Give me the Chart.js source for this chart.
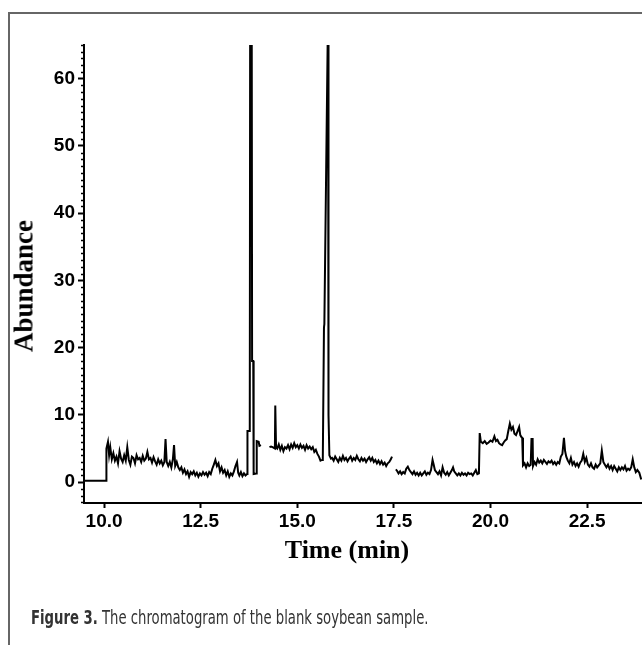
<!DOCTYPE html>
<html>
<head>
<meta charset="utf-8">
<script src="https://cdn.jsdelivr.net/npm/chart.js@4.4.1/dist/chart.umd.min.js"></script>
<style>
  html, body { margin: 0; padding: 0; background: #fff; }
  #wrap { position: relative; width: 642px; height: 645px; overflow: hidden; }
  #frame { position: absolute; left: 8px; top: 12px; width: 700px; height: 700px;
           border-top: 2px solid #666; border-left: 2px solid #666; }
  #chart { position: absolute; left: 0; top: 0; }
  .title { position: absolute; white-space: nowrap; font-family: "Liberation Serif", "Times New Roman", serif;
           font-weight: bold; color: #000; transform: translate(-50%, -50%); }
  #ytitle { left: 24px; top: 286px; font-size: 27px; transform: translate(-50%, -50%) rotate(-90deg); }
  #xtitle { left: 347px; top: 550px; font-size: 26px; }
  #caption { position: absolute; left: 31px; top: 605px; white-space: nowrap; color: #333;
             font-family: "Liberation Sans Narrow", "DejaVu Sans Condensed", sans-serif; font-stretch: condensed;
             font-size: 20px; transform: scaleX(0.735); transform-origin: left center; }
</style>
</head>
<body>
<div id="wrap">
  <div id="frame"></div>
  <canvas id="chart" width="642" height="645"></canvas>
  <div class="title" id="ytitle">Abundance</div>
  <div class="title" id="xtitle">Time (min)</div>
  <div id="caption"><b>Figure 3.</b> The chromatogram of the blank soybean sample.</div>
</div>
<script>
// ===============================
// DATA - chromatogram of blank soybean sample
// ===============================
const times = [
  9.48, 10.05, 10.06, 10.10, 10.13, 10.16, 10.20, 10.24, 10.28, 10.32, 10.36, 10.40, 10.44, 10.48, 10.52, 10.56,
  10.60, 10.64, 10.68, 10.72, 10.76, 10.80, 10.84, 10.88, 10.92, 10.96, 11.00, 11.04, 11.08, 11.12, 11.16, 11.20,
  11.24, 11.28, 11.32, 11.36, 11.40, 11.44, 11.48, 11.52, 11.56, 11.59, 11.62, 11.66, 11.70, 11.74, 11.78, 11.81,
  11.84, 11.88, 11.92, 11.96, 12.00, 12.04, 12.08, 12.12, 12.16, 12.20, 12.24, 12.28, 12.32, 12.36, 12.40, 12.44,
  12.48, 12.52, 12.56, 12.60, 12.64, 12.68, 12.72, 12.76, 12.80, 12.84, 12.88, 12.92, 12.96, 13.00, 13.04, 13.08,
  13.12, 13.16, 13.20, 13.24, 13.28, 13.32, 13.36, 13.40, 13.44, 13.47, 13.50, 13.54, 13.58, 13.62, 13.66, 13.70,
  13.71, 13.77, 13.78, 13.82, 13.83, 13.86, 13.87, 13.94, 13.95, 14.00, 14.02, 14.06, 14.10, 14.28, 14.32, 14.36,
  14.42, 14.43, 14.45, 14.48, 14.52, 14.56, 14.60, 14.64, 14.68, 14.72, 14.76, 14.80, 14.84, 14.88, 14.92, 14.96,
  15.00, 15.04, 15.08, 15.12, 15.16, 15.20, 15.24, 15.28, 15.32, 15.36, 15.40, 15.44, 15.48, 15.52, 15.56, 15.60,
  15.64, 15.66, 15.69, 15.70, 15.795, 15.80, 15.815, 15.83, 15.87, 15.90, 15.94, 15.98, 16.02, 16.06, 16.10, 16.14,
  16.18, 16.22, 16.26, 16.30, 16.34, 16.38, 16.42, 16.46, 16.50, 16.54, 16.58, 16.62, 16.66, 16.70, 16.74, 16.78,
  16.82, 16.86, 16.90, 16.94, 16.98, 17.02, 17.06, 17.10, 17.14, 17.18, 17.22, 17.26, 17.30, 17.34, 17.38, 17.42,
  17.45, 17.50, 17.55, 17.58, 17.62, 17.66, 17.70, 17.74, 17.78, 17.82, 17.86, 17.90, 17.94, 17.98, 18.02, 18.06,
  18.10, 18.14, 18.18, 18.22, 18.26, 18.30, 18.34, 18.38, 18.42, 18.46, 18.50, 18.53, 18.56, 18.60, 18.64, 18.68,
  18.72, 18.76, 18.80, 18.84, 18.88, 18.92, 18.96, 19.00, 19.03, 19.06, 19.10, 19.14, 19.18, 19.22, 19.26, 19.30,
  19.34, 19.38, 19.42, 19.46, 19.50, 19.54, 19.58, 19.62, 19.66, 19.70, 19.72, 19.75, 19.80, 19.85, 19.90, 19.95,
  20.00, 20.05, 20.10, 20.14, 20.18, 20.22, 20.26, 20.30, 20.34, 20.38, 20.42, 20.46, 20.50, 20.54, 20.58, 20.62,
  20.66, 20.70, 20.74, 20.77, 20.80, 20.82, 20.84, 20.88, 20.92, 20.96, 21.00, 21.04, 21.06, 21.09, 21.10, 21.14,
  21.18, 21.22, 21.26, 21.30, 21.34, 21.38, 21.42, 21.46, 21.50, 21.54, 21.58, 21.62, 21.66, 21.70, 21.74, 21.78,
  21.82, 21.86, 21.90, 21.93, 21.96, 22.00, 22.04, 22.08, 22.12, 22.16, 22.20, 22.24, 22.28, 22.32, 22.36, 22.40,
  22.44, 22.48, 22.52, 22.56, 22.60, 22.64, 22.68, 22.72, 22.76, 22.80, 22.84, 22.88, 22.92, 22.96, 23.00, 23.04,
  23.08, 23.12, 23.16, 23.20, 23.24, 23.28, 23.32, 23.36, 23.40, 23.44, 23.48, 23.52, 23.56, 23.60, 23.64, 23.68,
  23.72, 23.76, 23.80, 23.85, 23.90
];
const abundance = [
  0.2, 0.2, 5.0, 6.0, 4.0, 5.2, 3.4, 4.3, 3.2, 3.8, 2.8, 4.6, 3.5, 3.0, 4.0, 3.2,
  5.2, 3.3, 2.6, 3.8, 3.6, 2.8, 4.0, 3.4, 3.6, 3.0, 3.9, 3.2, 3.5, 4.5, 3.4, 3.6,
  2.9, 3.7, 3.1, 2.6, 3.4, 2.8, 3.2, 2.5, 3.0, 6.4, 3.0, 2.4, 3.0, 2.2, 3.4, 5.5,
  2.4, 3.0, 2.2, 1.8, 2.2, 1.4, 1.9, 1.2, 1.6, 0.8, 1.5, 1.2, 1.6, 1.0, 1.4, 0.8,
  1.3, 1.0, 1.5, 1.1, 1.4, 0.9, 1.5, 1.2, 2.0, 2.6, 3.3, 2.4, 2.8, 1.6, 2.2, 1.4,
  1.8, 1.0, 1.6, 0.8, 1.3, 1.0, 1.6, 2.4, 3.0, 1.4, 1.0, 1.5, 0.9, 1.3, 1.0, 1.2,
  7.6, 7.6, 70, 70, 18, 18, 1.2, 1.3, 6.1, 6.0, 5.4, 5.5, null, 5.2, 5.3, 5.2,
  5.0, 11.4, 5.2, 5.0, 5.6, 4.8, 5.4, 4.6, 5.2, 5.0, 5.5, 4.9, 5.6, 5.1, 5.8, 5.2,
  5.5, 5.0, 5.6, 5.1, 5.4, 4.8, 5.5, 5.0, 5.3, 4.9, 5.2, 4.5, 4.8, 4.2, 3.8, 3.2,
  3.3, 3.4, 23.0, 23.5, 70, 70, 10, 4.0, 3.5, 3.6, 3.2, 3.8, 3.4, 3.0, 3.6, 3.2,
  3.9, 3.3, 3.6, 3.1, 3.5, 3.8, 3.2, 3.6, 3.3, 3.9, 3.4, 3.1, 3.6, 3.2, 3.5, 3.0,
  3.4, 3.7, 3.2, 3.6, 3.0, 3.3, 2.8, 3.2, 2.7, 3.1, 2.6, 2.9, 2.4, 2.8, 3.0, 3.4,
  3.8, null, 1.9, 1.7, 1.3, 1.6, 1.2, 1.5, 1.3, 2.0, 2.3, 1.8, 1.5, 1.2, 1.6, 1.1,
  1.4, 1.0, 1.4, 1.0, 1.3, 1.6, 1.1, 1.4, 1.2, 1.8, 3.3, 2.6, 1.8, 1.5, 1.2, 1.6,
  1.0, 2.2, 1.4, 1.1, 1.5, 1.0, 1.4, 1.8, 2.2, 1.6, 1.3, 1.0, 1.3, 1.0, 1.4, 1.1,
  1.3, 1.0, 1.4, 1.2, 1.3, 1.0, 1.4, 1.8, 1.2, 1.3, 7.3, 6.0, 5.8, 6.1, 5.7, 5.9,
  6.2, 6.0, 6.8, 6.1, 6.3, 5.8, 5.6, 5.5, 5.9, 6.2, 6.4, 7.6, 8.7, 7.8, 8.2, 7.2,
  7.0, 7.6, 8.2, 7.0, 6.7, 6.6, 2.5, 2.8, 2.2, 2.8, 2.4, 2.6, 6.4, 6.4, 2.4, 3.0,
  2.6, 3.4, 2.9, 3.2, 2.8, 3.3, 3.0, 2.7, 3.1, 2.9, 3.2, 2.7, 3.0, 2.6, 3.0, 2.8,
  3.8, 4.2, 6.6, 4.6, 3.8, 3.2, 2.8, 3.6, 2.6, 3.0, 2.4, 2.8, 2.3, 2.9, 3.2, 4.2,
  3.0, 3.6, 2.6, 2.3, 2.8, 2.2, 2.0, 2.6, 2.2, 2.5, 2.8, 4.7, 3.0, 2.6, 2.2, 2.6,
  2.0, 2.4, 1.8, 2.4, 2.0, 1.6, 2.2, 1.8, 2.2, 1.9, 2.4, 1.7, 2.0, 1.8, 2.2, 3.4,
  2.2, 1.5, 1.8, 1.4, 0.4
];
const xTickValues = [10, 12.5, 15, 17.5, 20, 22.5];
const yTickValues = [0, 10, 20, 30, 40, 50, 60];

const tickFont = { family: "'Liberation Sans', Arial, sans-serif", size: 19, weight: "bold" };

// small minor ticks on the y axis (every 1 unit)
const minorTicks = {
    id: "minorTicks",
    afterDraw(chart) {
        const s = chart.scales.y;
        const ctx = chart.ctx;
        ctx.save();
        ctx.strokeStyle = "#000";
        ctx.lineWidth = 1.5;
        for (let v = Math.ceil(s.min); v <= Math.floor(s.max); v++) {
            if (v % 10 === 0) continue;
            const py = Math.round(s.getPixelForValue(v)) + 0.5;
            ctx.beginPath();
            ctx.moveTo(s.right - 3, py);
            ctx.lineTo(s.right, py);
            ctx.stroke();
        }
        ctx.restore();
    }
};

new Chart(document.getElementById("chart"), {
    type: "line",
    data: {
        datasets: [{
            data: times.map((t, i) => ({ x: t, y: abundance[i] })),
            borderColor: "#000",
            borderWidth: 2,
            pointRadius: 0,
            tension: 0,
            spanGaps: false
        }]
    },
    options: {
        responsive: false,
        animation: false,
        layout: { padding: { top: 45, right: 0, bottom: 102, left: 0 } },
        plugins: { legend: { display: false }, tooltip: { enabled: false } },
        scales: {
            x: {
                type: "linear",
                min: 9.48,
                max: 23.92,
                afterBuildTicks: s => { s.ticks = xTickValues.map(v => ({ value: v })); },
                afterFit: s => { s.height = 40; },
                border: { color: "#000", width: 2 },
                grid: { drawOnChartArea: false, tickLength: 5, tickColor: "#000", tickWidth: 2 },
                ticks: { color: "#000", font: tickFont, padding: 2, maxRotation: 0,
                         callback: v => v.toFixed(1) }
            },
            y: {
                min: -3.1,
                max: 65,
                afterBuildTicks: s => { s.ticks = yTickValues.map(v => ({ value: v })); },
                afterFit: s => { s.width = 84; },
                border: { color: "#000", width: 2 },
                grid: { drawOnChartArea: false, tickLength: 6, tickColor: "#000", tickWidth: 2 },
                ticks: { color: "#000", font: tickFont, padding: 3 }
            }
        }
    },
    plugins: [minorTicks]
});
</script>
</body>
</html>
